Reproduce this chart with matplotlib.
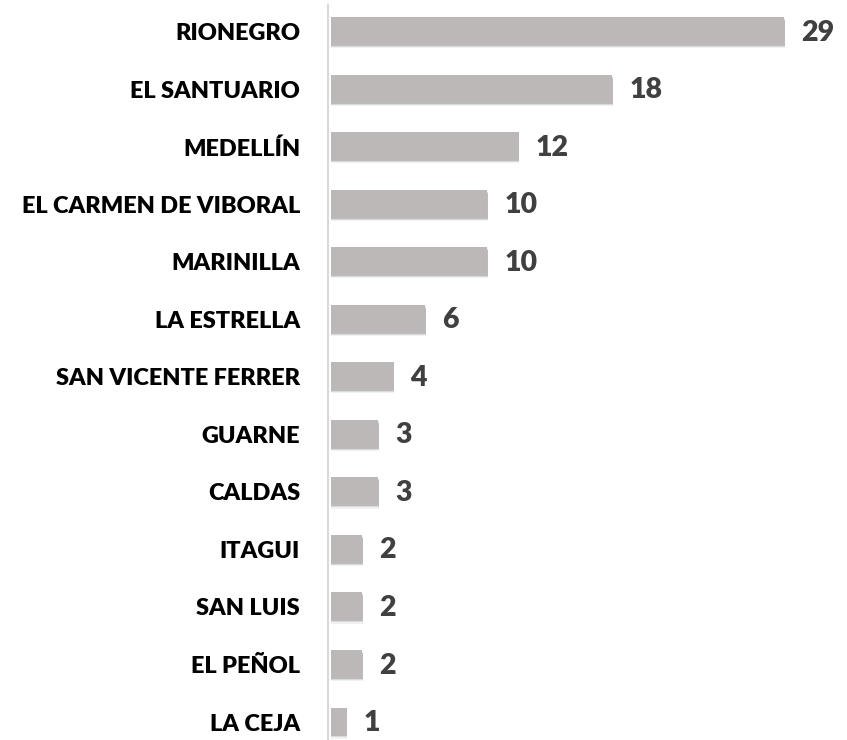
import matplotlib.pyplot as plt
import matplotlib.transforms as mtransforms

# Municipios y número de casos
municipios = ["RIONEGRO", "EL SANTUARIO", "MEDELLÍN", "EL CARMEN DE VIBORAL",
              "MARINILLA", "LA ESTRELLA", "SAN VICENTE FERRER", "GUARNE",
              "CALDAS", "ITAGUI", "SAN LUIS", "EL PEÑOL", "LA CEJA"]
casos = [29, 18, 12, 10, 10, 6, 4, 3, 3, 2, 2, 2, 1]

bar_color = "#BCB8B7"
fig = plt.figure(figsize=(8.47, 7.4), dpi=100)
ax = fig.add_axes([331 / 847, 0.0, 1 - 331 / 847, 735 / 740])

ypos = list(range(len(municipios)))
h = 0.47

# soft shadow under the bars
for dy, a in [(0.07, 0.08), (0.05, 0.14), (0.03, 0.22)]:
    ax.barh([y + dy for y in ypos], [c + 0.05 for c in casos], height=h,
            color="#505050", alpha=a, zorder=1)
ax.barh(ypos, casos, height=h, color=bar_color, zorder=2)

ax.set_xlim(0, 33)
ax.set_ylim(12.33, -0.45)

for s in ["top", "right", "bottom"]:
    ax.spines[s].set_visible(False)
ax.spines["left"].set_color("#D9D9D9")
ax.spines["left"].set_linewidth(1.5)
ax.spines["left"].set_position(("outward", 2))
ax.set_xticks([])
ax.set_yticks([])

for y, name, c in zip(ypos, municipios, casos):
    tr = mtransforms.offset_copy(ax.get_yaxis_transform(), fig=fig, x=-31, y=-3, units="dots")
    ax.text(0, y, name, transform=tr, ha="right", va="center",
            fontsize=16.9, fontweight="heavy", family="Lato", color="black")
    tr2 = mtransforms.offset_copy(ax.transData, fig=fig, x=17, y=-2, units="dots")
    ax.text(c, y, str(c), transform=tr2, ha="left", va="center",
            fontsize=20.5, fontweight="heavy", family="Lato", color="#404040")

fig.savefig("out.png")
